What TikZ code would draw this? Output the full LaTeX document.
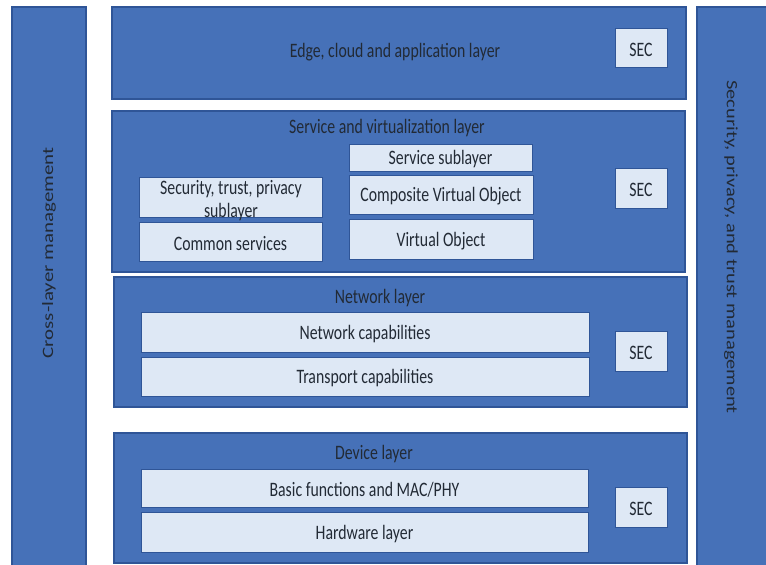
\documentclass[tikz,border=0pt]{standalone}
\usepackage{fontspec}
\setmainfont{Carlito}
\usepackage{graphicx}
\usepackage{xcolor}

\definecolor{layerblue}{HTML}{4671B8}
\definecolor{lineblue}{HTML}{2F5597}
\definecolor{subblue}{HTML}{DEE8F5}
\definecolor{inktext}{HTML}{222A35}

% the text of the picture is set narrow
\newcommand{\narrow}[1]{\raisebox{-2pt}[\height][\depth]{\scalebox{0.77}[1]{#1}}}

\tikzset{
  layer/.style={draw=lineblue, fill=layerblue, line width=1.2pt, inner sep=0pt},
  sub/.style={draw=lineblue, fill=subblue, line width=1pt, inner sep=0pt},
  sec/.style={sub, minimum width=52pt, minimum height=40pt},
}

\begin{document}
\begin{tikzpicture}[x=1pt,y=-1pt,
  every node/.append style={text=inktext, font=\fontsize{20.5}{23}\selectfont}]
  \useasboundingbox (0,0) rectangle (766,565);
  % side columns
  \node[layer, minimum width=74pt, minimum height=560pt] (crosscol) at (49,287) {};
  \node[layer, minimum width=71pt, minimum height=560pt] (trustcol) at (732.5,287) {};
  \node (crosslbl) at (49,253) {\scalebox{0.77}[1.02]{\rotatebox{90}{Cross-layer management}}};
  \node (trustlbl) at (731,247) {\scalebox{0.77}[1]{\rotatebox{-90}{Security, privacy, and trust management}}};
  % edge layer
  \node[layer, minimum width=574pt, minimum height=92pt] (edge) at (399,53) {};
  \node (edgelbl) at (395,50) {\narrow{Edge, cloud and application layer}};
  \node[sec, minimum height=39pt] (edgesec) at (641,47.5) {\narrow{SEC}};
  % service and virtualization layer
  \node[layer, minimum width=573pt, minimum height=161pt] (service) at (398.5,191.5) {};
  \node (servicelbl) at (387,126) {\narrow{Service and virtualization layer}};
  \node[sub, minimum width=183pt, minimum height=40pt] (stpbox) at (230.5,197) {};
  \node[align=center, inner sep=0pt] (stplbl) at (231,199) {\narrow{Security, trust, privacy}\\\narrow{sublayer}};
  \node[sub, minimum width=183pt, minimum height=39pt] (common) at (230.5,241.5) {\narrow{Common services}};
  \node[sub, minimum width=183pt, minimum height=27pt] (servsub) at (440.5,157.5) {\narrow{Service sublayer}};
  \node[sub, minimum width=184pt, minimum height=39pt] (cvo) at (441,194.5) {\narrow{Composite Virtual Object}};
  \node[sub, minimum width=184pt, minimum height=40pt] (vo) at (441,239) {\narrow{Virtual Object}};
  \node[sec] (servicesec) at (641,188) {\narrow{SEC}};
  % network layer
  \node[layer, minimum width=573pt, minimum height=130pt] (network) at (400.5,342) {};
  \node (networklbl) at (380,296) {\narrow{Network layer}};
  \node[sub, minimum width=448pt, minimum height=40pt] (netcap) at (365,332) {\narrow{Network capabilities}};
  \node[sub, minimum width=448pt, minimum height=39pt] (transcap) at (365,376.5) {\narrow{Transport capabilities}};
  \node[sec] (networksec) at (641,351) {\narrow{SEC}};
  % device layer
  \node[layer, minimum width=573pt, minimum height=130pt] (device) at (400.5,498) {};
  \node (devicelbl) at (374,452) {\narrow{Device layer}};
  \node[sub, minimum width=447pt, minimum height=38pt] (basic) at (364.5,488) {\narrow{Basic functions and MAC/PHY}};
  \node[sub, minimum width=447pt, minimum height=40pt] (hardware) at (364.5,532) {\narrow{Hardware layer}};
  \node[sec] (devicesec) at (641,507) {\narrow{SEC}};
\end{tikzpicture}
\end{document}
